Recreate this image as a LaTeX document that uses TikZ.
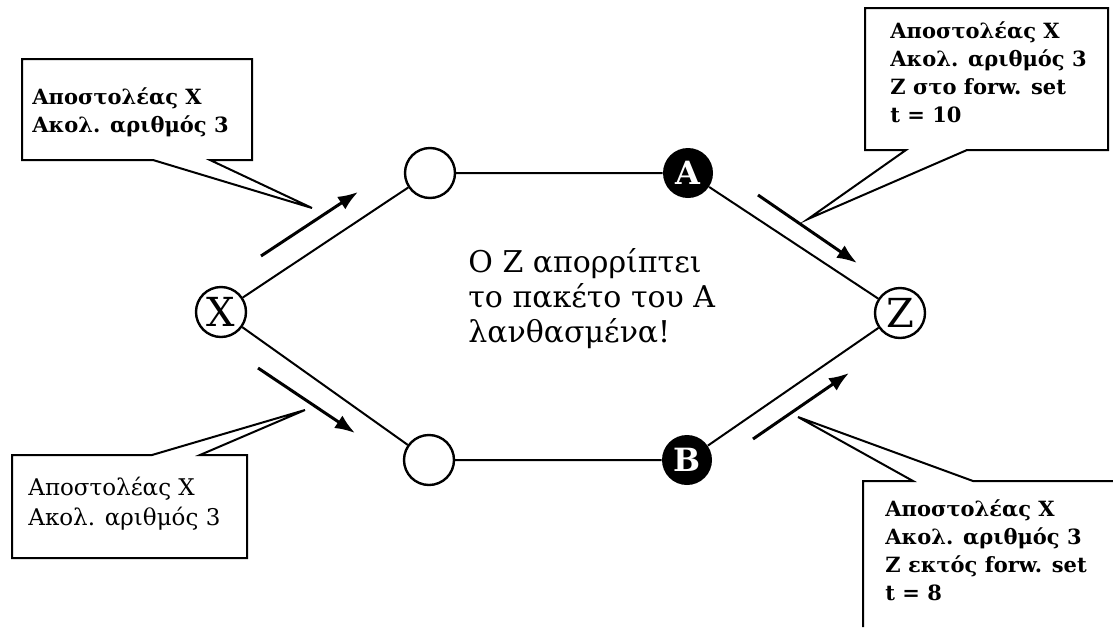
\documentclass[tikz,border=0pt]{standalone}
\usepackage{fontspec}
\setmainfont{DejaVu Serif}
\usepackage{tikz}
\usetikzlibrary{arrows.meta}

\tikzset{
    peer/.style={circle, draw, line width=1.2pt, minimum size=25pt, inner sep=0pt, font=\fontsize{20}{20}\selectfont},
    liar/.style={circle, fill, minimum size=25pt, inner sep=0pt, text=white, font=\bfseries\fontsize{16}{16}\selectfont},
    note/.style={anchor=base west, align=left, inner sep=0pt, font=\bfseries\fontsize{10.5}{14}\selectfont},
    flow/.style={line width=1.5pt, -{Latex[length=10pt, width=7.5pt]}},
    bubble/.style={line width=1pt, line join=miter}
}

\begin{document}
\begin{tikzpicture}[x=0.5pt, y=-0.5pt]
    \useasboundingbox (0,0) rectangle (1113,627);

    % the two routes from X to Z
    \node[peer] (X) at (221,312) {X};
    \node[peer] (up) at (430,173) {};
    \node[peer] (down) at (429,460) {};
    \node[liar] (A) at (688,173) {A};
    \node[liar] (B) at (687,460) {B};
    \node[peer] (Z) at (900,313) {Z};

    \draw[line width=1pt] (X) -- (up) -- (A) -- (Z);
    \draw[line width=1pt] (X) -- (down) -- (B) -- (Z);

    % packet directions
    \coordinate (x1) at (261,256); \coordinate (u1) at (358,192);
    \coordinate (x2) at (258,368); \coordinate (d2) at (355,433);
    \coordinate (a3) at (758,195); \coordinate (z3) at (857,263);
    \coordinate (b4) at (753,439); \coordinate (z4) at (849,373);
    \draw[flow] (x1) -- (u1);
    \draw[flow] (x2) -- (d2);
    \draw[flow] (a3) -- (z3);
    \draw[flow] (b4) -- (z4);

    % callouts (multi-line nodes sit on their last baseline)
    \coordinate (tip1) at (312,208);
    \coordinate (tip2) at (808,219);
    \coordinate (tip3) at (305,410);
    \coordinate (tip4) at (798,417);
    \draw[bubble] (22,59) -- (252,59) -- (252,160) -- (210,160) -- (tip1) -- (153,160) -- (22,160) -- cycle;
    \draw[bubble] (865,8) -- (1108,8) -- (1108,150) -- (967,150) -- (tip2) -- (906,150) -- (865,150) -- cycle;
    \draw[bubble] (12,455) -- (152,455) -- (tip3) -- (200,455) -- (247,455) -- (247,558) -- (12,558) -- cycle;
    \draw[bubble] (1113,481) -- (973,481) -- (tip4) -- (913,481) -- (863,481) -- (863,627);

    \node[note] (n1) at (32,132) {Αποστολέας X\\Ακολ. αριθμός 3};
    \node[note] (n2) at (890,122) {Αποστολέας X\\Ακολ. αριθμός 3\\Z στο forw. set\\t = 10};
    \node[note, font=\fontsize{11.5}{15}\selectfont] (n3) at (28,525) {Αποστολέας X\\Ακολ. αριθμός 3};
    \node[note] (n4) at (885,600) {Αποστολέας X\\Ακολ. αριθμός 3\\Z εκτός forw. set\\t = 8};

    \node[note, font=\fontsize{15}{17.5}\selectfont] (msg) at (468,342) {Ο Z απορρίπτει\\το πακέτο του A\\λανθασμένα!};
\end{tikzpicture}
\end{document}
